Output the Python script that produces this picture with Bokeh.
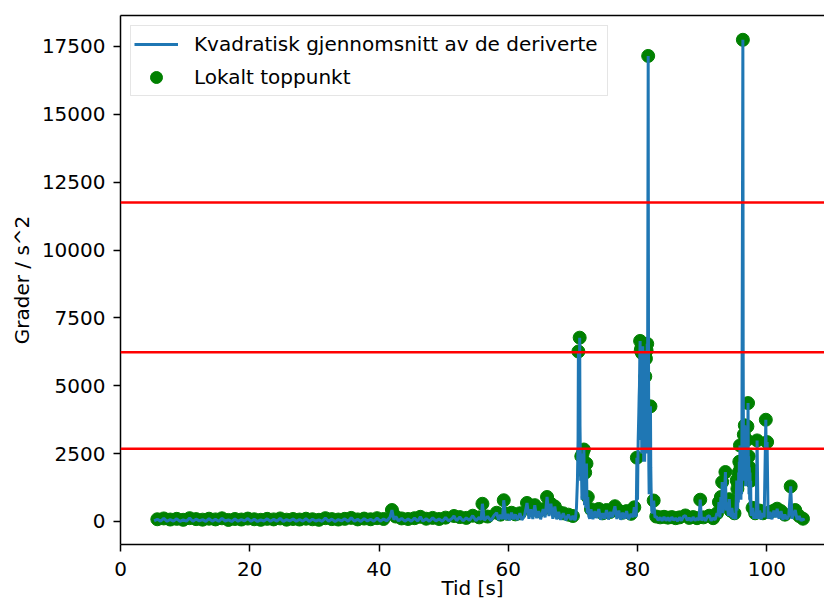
import numpy as np
from bokeh.plotting import figure
from bokeh.models import (Range1d, FixedTicker, LinearAxis, Span, Legend,
                          LegendItem, BasicTickFormatter)
from bokeh.embed import file_html
from bokeh.resources import INLINE

# ---- data ----
# quiet segment 5-41 s
t_a = [5.2,5.7,6.2,6.7,7.2,7.7,8.2,8.7,9.2,9.7,10.2,10.7,11.2,11.7,12.2,12.7,13.2,13.7,14.2,14.7,
       15.2,15.7,16.2,16.7,17.2,17.7,18.2,18.7,19.2,19.7,20.2,20.7,21.2,21.7,22.2,22.7,23.2,23.7,24.2,24.7,
       25.2,25.7,26.2,26.7,27.2,27.7,28.2,28.7,29.2,29.7,30.2,30.7,31.2,31.7,32.2,32.7,33.2,33.7,34.2,34.7,
       35.2,35.7,36.2,36.7,37.2,37.7,38.2,38.7,39.2,39.7,40.2,40.7,41.2]
v_a = [20,80,10,110,5,70,15,95,0,60,
       10,120,5,85,20,65,0,100,10,75,
       5,115,15,55,0,90,10,70,20,105,
       5,80,0,60,15,95,5,75,10,110,
       0,65,20,90,5,70,10,100,0,80,
       15,60,5,120,10,85,0,70,20,95,
       5,130,10,75,0,105,15,80,5,120,
       10,90,20]
# small bumps 41.7-70.3 s
t_b = [41.7,42.0,42.3,42.6,43.0,43.5,44.0,44.5,45.0,45.5,
       46.0,46.4,46.8,47.3,47.8,48.3,48.8,49.3,49.8,50.3,
       50.8,51.3,51.6,52.0,52.5,53.0,53.5,54.0,54.5,55.0,
       55.5,55.8,56.0,56.3,56.8,57.3,57.8,58.2,58.5,58.8,
       59.1,59.3,59.6,59.9,60.2,60.5,60.8,61.1,61.4,61.8,
       62.1,62.5,62.9,63.2,63.5,63.8,64.1,64.4,64.7,65.0,
       65.4,65.7,66.0,66.3,66.6,66.9,67.2,67.5,67.8,68.1,
       68.5,68.9,69.3,69.7,70.0,70.3]
v_b = [150,420,60,180,20,110,10,90,5,120,
       15,170,10,100,5,130,20,90,10,140,
       15,110,200,30,160,20,130,40,210,30,
       150,60,650,40,180,30,220,320,50,250,
       80,780,60,280,40,320,80,260,50,300,
       60,200,680,100,450,90,600,120,380,80,
       450,150,900,200,650,100,550,80,350,60,
       300,40,250,60,200,50]
# spike near 71 s
t_c = [70.4,70.55,70.7,70.8,70.85,70.9,70.95,71.0,71.05,
       71.1,71.2,71.3,71.4,71.5,71.6,71.7,71.8,71.9,72.0,
       72.1,72.2,72.3,72.45,72.6]
v_c = [100,500,1500,3000,6260,4000,2500,4500,6770,
       3500,1500,2400,800,2500,1000,2650,600,1800,500,
       2130,300,900,200,100]
# 72.8-79.7 s
t_d = [72.8,73.1,73.4,73.7,74.0,74.3,74.6,74.9,75.2,75.5,
       75.8,76.1,76.5,76.8,77.1,77.4,77.7,78.0,78.3,78.6,
       79.0,79.3,79.5,79.7]
v_d = [450,80,380,120,460,60,300,100,420,70,
       350,150,560,90,400,60,320,100,380,80,
       280,150,520,200]
# cluster 79.8-82.7 s
t_e = [79.8,79.9,80.0,80.05,80.1,80.15,80.2,80.25,80.3,80.35,
       80.4,80.45,80.5,80.55,80.6,80.65,80.7,80.75,80.8,80.85,
       80.9,80.95,81.0,81.05,81.1,81.15,81.2,81.25,81.3,81.35,
       81.4,81.45,81.5,81.55,81.6,81.65,81.7,81.75,81.8,81.85,
       81.9,81.95,82.0,82.05,82.1,82.2,82.3,82.5,82.7]
v_e = [200,2350,800,2000,3000,3500,4000,4600,5000,6000,
       6650,3500,6300,3000,6400,2500,6200,2800,6450,3000,
       6300,2200,6200,2500,2200,3500,5340,2600,6000,2500,
       6300,3000,6545,4000,10800,17150,6000,2000,1000,2000,
       3000,3800,4240,2000,1200,400,300,770,150]
# 82.9-95.2 s
t_f = [82.9,83.2,83.5,83.8,84.1,84.4,84.7,85.0,85.3,85.6,
       85.9,86.2,86.5,86.8,87.1,87.4,87.7,88.0,88.3,88.6,
       88.9,89.2,89.5,89.7,89.9,90.2,90.5,90.8,91.1,91.4,
       91.7,92.0,92.3,92.45,92.6,92.75,92.9,93.0,93.1,93.2,
       93.3,93.45,93.6,93.7,93.8,93.9,94.05,94.2,94.3,94.4,
       94.5,94.6,94.8,95.0,95.2]
v_f = [180,40,150,20,170,30,140,20,160,40,
       120,10,150,30,180,220,40,130,20,160,
       30,120,50,800,40,150,20,180,210,30,
       120,60,300,200,710,150,900,400,1450,300,
       800,1000,1820,400,500,700,200,820,300,400,
       150,500,100,300,80]
# cluster 95.35-97.6 s
t_g = [95.35,95.4,95.45,95.5,95.55,95.6,95.65,95.7,95.75,95.8,
       95.85,95.9,95.95,96.0,96.05,96.1,96.15,96.2,96.3,96.35,
       96.4,96.45,96.5,96.55,96.6,96.65,96.7,96.75,96.8,96.85,
       96.9,96.95,97.0,97.05,97.1,97.15,97.2,97.25,97.3,97.35,
       97.4,97.45,97.5,97.55,97.6]
v_g = [1510,400,1200,500,1400,700,1800,900,2200,1200,
       2800,1000,2000,800,2200,1000,3000,8000,17745,6000,
       2000,3200,1500,3300,3540,1500,2200,1300,2370,1500,
       3000,1800,3500,2000,4360,1500,2400,1000,2000,800,
       1800,600,1500,400,200]
# 97.8-105.75 s
t_h = [97.8,98.0,98.2,98.35,98.5,98.65,98.9,
       99.1,99.4,99.6,99.85,99.95,100.05,100.2,100.5,100.8,101.1,
       101.4,101.6,101.9,102.2,102.5,102.8,103.1,103.4,103.7,103.9,
       104.2,104.4,104.7,105.0,105.3,105.6,105.75]
v_h = [500,100,300,100,2985,100,400,
       80,300,150,3746,1500,2923,100,350,80,400,
       150,470,100,380,60,250,80,200,1290,100,
       300,420,60,200,30,100,20]

thresholds = [2675, 6234, 11749]
x_ticks = [0, 20, 40, 60, 80, 100]
y_ticks = [0, 2500, 5000, 7500, 10000, 12500, 15000, 17500]

# ---- assemble ----
t = np.array(t_a + t_b + t_c + t_d + t_e + t_f + t_g + t_h, dtype=float)
v = np.array(v_a + v_b + v_c + v_d + v_e + v_f + v_g + v_h, dtype=float)
is_peak = (v[1:-1] > v[:-2]) & (v[1:-1] > v[2:])
pk = np.where(is_peak)[0] + 1

FONT = "DejaVu Sans"
FS = "20px"
X_MIN, X_MAX = 0, 108.93
Y_MIN, Y_MAX = -850, 18640

p = figure(width=824, height=604,
           x_range=Range1d(X_MIN, X_MAX), y_range=Range1d(Y_MIN, Y_MAX),
           output_backend="svg", toolbar_location=None,
           min_border_left=120, min_border_right=0,
           min_border_top=15, min_border_bottom=60)
p.xgrid.visible = False
p.ygrid.visible = False
p.outline_line_color = None
p.background_fill_color = "white"
p.border_fill_color = "white"

r_sc = p.scatter(t[pk], v[pk], size=13, color="green", line_color="green")
r_ln = p.line(t, v, line_color="#1f77b4", line_width=3)

for th in thresholds:
    p.add_layout(Span(location=th, dimension="width", line_color="red", line_width=2.5))

for ax in (p.xaxis[0], p.yaxis[0]):
    ax.axis_line_color = "black"
    ax.axis_line_width = 1.5
    ax.major_tick_line_color = "black"
    ax.major_tick_line_width = 1.5
    ax.major_tick_in = 0
    ax.major_tick_out = 7
    ax.minor_tick_in = 0
    ax.minor_tick_out = 0
    ax.major_label_text_font = FONT
    ax.major_label_text_font_size = FS
    ax.major_label_text_color = "black"
    ax.axis_label_text_font = FONT
    ax.axis_label_text_font_size = FS
    ax.axis_label_text_font_style = "normal"
    ax.axis_label_text_color = "black"

p.xaxis.ticker = FixedTicker(ticks=x_ticks)
p.yaxis.ticker = FixedTicker(ticks=y_ticks)
p.yaxis.formatter = BasicTickFormatter(use_scientific=False)
p.xaxis.major_label_standoff = 10
p.xaxis.axis_label = "Tid [s]"
p.xaxis.axis_label_standoff = -3
p.yaxis.major_label_standoff = 8
p.yaxis.axis_label = "Grader / s^2"
p.yaxis.axis_label_standoff = 5

top = LinearAxis(ticker=FixedTicker(ticks=[]), axis_line_color="black", axis_line_width=1.5,
                 major_tick_in=0, major_tick_out=0, minor_tick_in=0, minor_tick_out=0,
                 major_label_standoff=0, axis_label_standoff=0,
                 major_label_text_font_size="0px")
p.add_layout(top, "above")

legend = Legend(items=[LegendItem(label="Kvadratisk gjennomsnitt av de deriverte", renderers=[r_ln]),
                       LegendItem(label="Lokalt toppunkt", renderers=[r_sc])],
                location="top_left")
legend.label_text_font = FONT
legend.label_text_font_size = FS
legend.label_text_color = "black"
legend.glyph_width = 44
legend.glyph_height = 30
legend.label_standoff = 16
legend.label_width = 410
legend.padding = 3
legend.spacing = 3
legend.margin = 10
legend.border_line_color = "#cccccc"
legend.border_line_width = 1
legend.background_fill_alpha = 0.8
p.add_layout(legend)

open("out.html", "w").write(file_html(p, INLINE))
